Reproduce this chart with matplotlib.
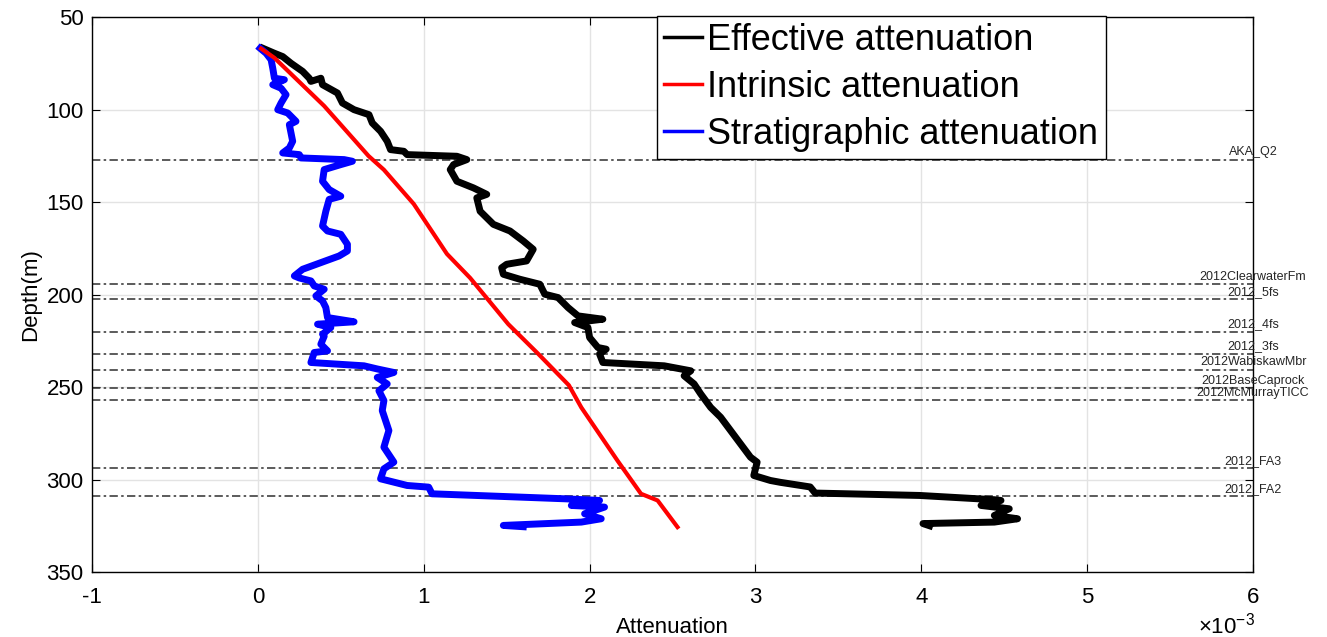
import matplotlib.pyplot as plt

plt.rcParams['font.family'] = ['Liberation Sans', 'DejaVu Sans']
plt.rcParams['axes.unicode_minus'] = False
plt.rcParams['mathtext.fontset'] = 'custom'
plt.rcParams['mathtext.rm'] = 'Liberation Sans'

# attenuation values in units of 1e-3, depth in m
eff_att = [0.03, 0.10, 0.15, 0.20, 0.27, 0.31, 0.32, 0.38, 0.39, 0.48,
           0.51, 0.58, 0.67, 0.69, 0.74, 0.78, 0.80, 0.88, 0.90, 1.20,
           1.26, 1.18, 1.16, 1.20, 1.30, 1.38, 1.32, 1.34, 1.42, 1.52,
           1.60, 1.66, 1.62, 1.50, 1.47, 1.48, 1.58, 1.70, 1.73, 1.81,
           1.87, 1.93, 2.08, 1.91, 1.99, 2.00, 2.05, 2.10, 2.06, 2.08,
           2.45, 2.61, 2.57, 2.63, 2.67, 2.73, 2.79, 2.85, 2.91, 2.97,
           3.01, 2.99, 3.09, 3.15, 3.33, 3.36, 3.99, 4.44, 4.48, 4.36,
           4.53, 4.44, 4.58, 4.44, 4.01, 4.05]
eff_depth = [66.8, 69.5, 71.3, 74.9, 79.3, 83.0, 84.7, 83.0, 86.5, 91.0,
             96.4, 100.0, 102.7, 107.2, 111.7, 117.1, 121.6, 122.5, 124.3, 125.2,
             127.0, 129.7, 132.4, 138.7, 142.3, 145.8, 147.7, 154.9, 162.0, 165.6,
             171.0, 175.5, 181.8, 183.6, 185.5, 189.0, 191.7, 194.4, 199.8, 201.6,
             207.0, 211.5, 213.3, 215.1, 217.8, 223.2, 228.6, 229.5, 232.1, 236.7,
             238.5, 241.2, 243.9, 248.3, 253.7, 261.0, 266.3, 273.5, 280.7, 287.9,
             290.6, 297.8, 300.5, 301.5, 304.0, 307.3, 308.6, 310.9, 311.3, 314.0,
             315.8, 319.4, 321.2, 323.0, 323.8, 325.0]

int_att = [0.02, 0.10, 0.40, 0.667, 0.76, 0.94, 1.14, 1.28, 1.51, 1.69,
           1.875, 1.95, 2.17, 2.31, 2.41, 2.53]
int_depth = [67.0, 72.0, 98.0, 125.0, 132.5, 151.0, 178.0, 191.0, 216.0, 232.0,
             249.0, 261.0, 290.0, 307.7, 311.3, 325.7]

strat_att = [0.014, 0.05, 0.08, 0.09, 0.10, 0.16, 0.09, 0.14, 0.17, 0.14,
             0.12, 0.18, 0.23, 0.19, 0.20, 0.21, 0.19, 0.15, 0.25, 0.26,
             0.52, 0.57, 0.50, 0.40, 0.39, 0.43, 0.50, 0.43, 0.41, 0.39,
             0.42, 0.50, 0.54, 0.54, 0.49, 0.38, 0.27, 0.22, 0.25, 0.32,
             0.34, 0.40, 0.35, 0.39, 0.41, 0.42, 0.58, 0.36, 0.44, 0.39,
             0.40, 0.38, 0.42, 0.34, 0.32, 0.64, 0.72, 0.82, 0.72, 0.78,
             0.73, 0.76, 0.75, 0.79, 0.76, 0.82, 0.76, 0.74, 0.82, 0.90,
             1.03, 1.05, 1.85, 2.06, 1.89, 2.09, 1.97, 2.07, 1.95, 1.48,
             1.60]
strat_depth = [66.8, 69.5, 73.0, 77.6, 83.0, 83.8, 86.5, 88.4, 91.9, 96.4,
               100.0, 101.8, 106.3, 108.1, 112.6, 117.1, 120.7, 123.4, 124.3, 126.1,
               127.0, 127.9, 129.7, 132.4, 138.7, 143.2, 146.8, 148.5, 154.9, 162.9,
               165.6, 167.4, 172.8, 176.4, 179.1, 182.7, 186.3, 189.9, 191.0, 192.6,
               195.3, 197.1, 200.7, 203.4, 207.0, 212.4, 214.7, 216.0, 217.8, 221.4,
               222.5, 226.8, 230.4, 231.3, 236.7, 238.5, 240.2, 242.1, 244.8, 248.3,
               252.0, 257.3, 262.7, 273.5, 282.5, 290.6, 294.2, 299.6, 301.4, 303.2,
               304.1, 307.7, 310.4, 311.3, 314.0, 314.9, 318.5, 321.2, 323.0, 324.8,
               325.5]

top_names = ['AKA_Q2', '2012ClearwaterFm', '2012_5fs', '2012_4fs', '2012_3fs',
             '2012WabiskawMbr', '2012BaseCaprock', '2012McMurrayTICC', '2012_FA3', '2012_FA2']
top_depth = [127.0, 194.5, 202.5, 220.0, 232.0, 240.5, 250.5, 257.0, 294.0, 309.0]

x_ticks = [-1, 0, 1, 2, 3, 4, 5, 6]
y_ticks = [50, 100, 150, 200, 250, 300, 350]

fig = plt.figure(figsize=(13.27, 6.37), dpi=100)
ax = fig.add_axes([0.0693, 0.102, 0.875, 0.871])

# formation tops
for d, name in zip(top_depth, top_names):
    ax.plot([-1, 6], [d, d], color='#404040', lw=1.2, ls='-.',
            dashes=[5, 2, 1.5, 2], zorder=1)
    ax.text(6, d - 0.8, name, fontsize=9, ha='center', va='bottom', color='#262626')

l1, = ax.plot(eff_att, eff_depth, color='black', lw=5, solid_joinstyle='round', zorder=3)
l2, = ax.plot(int_att, int_depth, color='red', lw=3, zorder=4)
l3, = ax.plot(strat_att, strat_depth, color='blue', lw=5, solid_joinstyle='round', zorder=3)

ax.set_xlim(-1, 6)
ax.set_ylim(350, 50)
ax.set_xticks(x_ticks)
ax.set_yticks(y_ticks)
ax.grid(True, color='#e3e3e3', lw=1)
ax.set_axisbelow(True)
ax.tick_params(direction='in', top=True, right=True, labelsize=16, length=6, pad=6)
ax.tick_params(axis='x', pad=11)
for s in ax.spines.values():
    s.set_linewidth(1)
    s.set_color('black')

ax.set_xlabel('Attenuation', fontsize=16, labelpad=6)
ax.set_ylabel('Depth(m)', fontsize=16, labelpad=4)
fig.text(0.946, 0.006, r'$\mathregular{\times10^{-3}}$', ha='right', va='baseline', fontsize=16)

leg = ax.legend([l1, l2, l3],
                ['Effective attenuation', 'Intrinsic attenuation', 'Stratigraphic attenuation'],
                loc='upper right', bbox_to_anchor=(0.873, 1.003), fontsize=26,
                handlelength=1.05, handletextpad=0.15, borderpad=0.2, labelspacing=0.33,
                fancybox=False, framealpha=1, edgecolor='black', borderaxespad=0)
for h in leg.get_lines():
    h.set_linewidth(2.5)
leg.get_frame().set_linewidth(1)

fig.savefig('out.png', dpi=100)
